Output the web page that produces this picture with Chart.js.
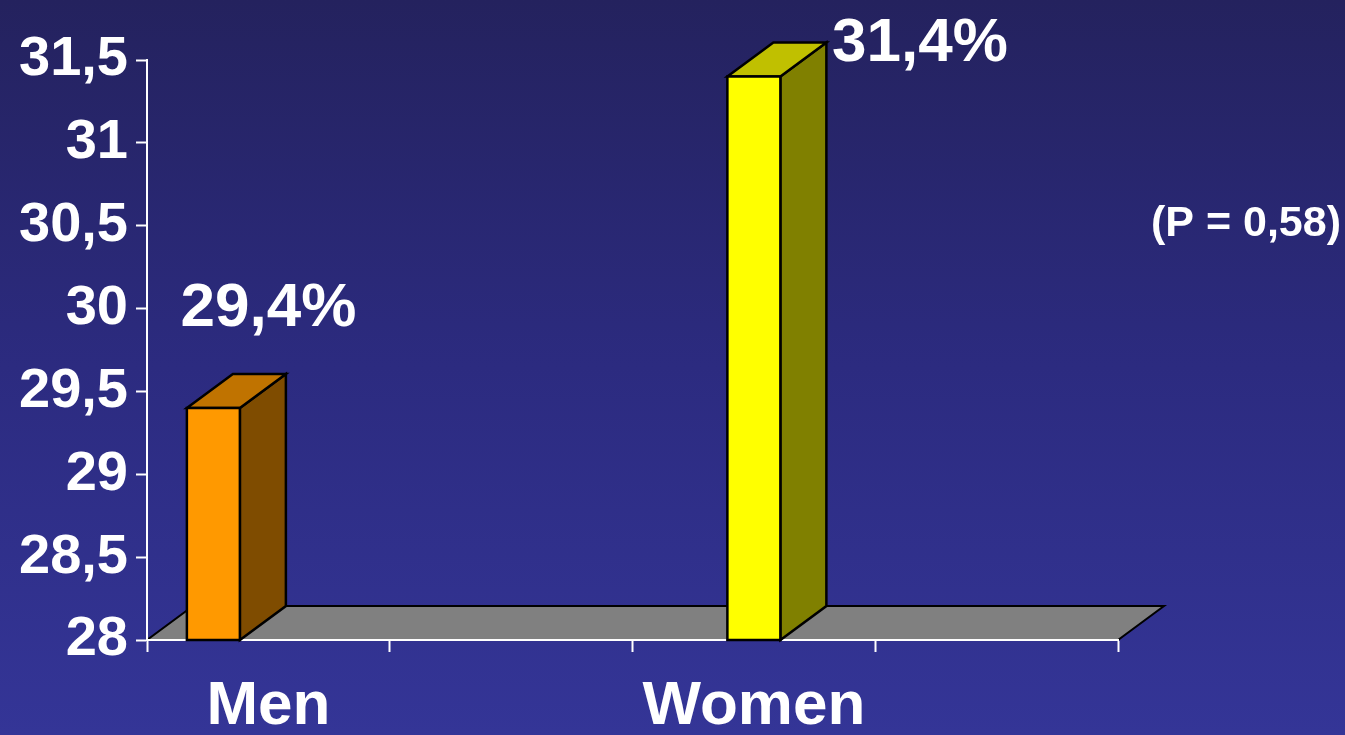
<!DOCTYPE html>
<html>
<head>
<meta charset="utf-8">
<script src="https://cdn.jsdelivr.net/npm/chart.js@4"></script>
<style>
  html, body { margin: 0; padding: 0; }
  #wrap { width: 1345px; height: 735px; position: relative;
          background: linear-gradient(to bottom, #24225e 0%, #2c2b80 50%, #343597 100%); }
</style>
</head>
<body>
<div id="wrap"><canvas id="c"></canvas></div>
<script>
// ---- data ----
const categories = ['Men', 'Women'];
const values = [29.4, 31.4];
const valueLabels = ['29,4%', '31,4%'];
const yTicks = [28, 28.5, 29, 29.5, 30, 30.5, 31, 31.5];
const note = '(P = 0,58)';

// ---- styles ----
const FONT = '"Liberation Sans", Arial, sans-serif';
const faceColors = [
  { front: '#FF9900', top: '#C07300', side: '#7F4C00' },
  { front: '#FFFF00', top: '#C0C000', side: '#808000' }
];
const barShiftPx = [-55, 0];                 // horizontal placement tweak inside the category slot
const labelOffset = [{ dx: 0, dy: -82 }, { dx: 166, dy: -16 }];
const DEPTH_X = 46, DEPTH_Y = -34;

const xLabels = categories.flatMap(c => [c, '']);

function poly(ctx, pts, fill) {
  ctx.beginPath();
  ctx.moveTo(pts[0][0], pts[0][1]);
  for (let i = 1; i < pts.length; i++) ctx.lineTo(pts[i][0], pts[i][1]);
  ctx.closePath();
  ctx.fillStyle = fill;
  ctx.fill();
  ctx.stroke();
}

const threeD = {
  id: 'threeD',
  beforeDraw(chart) {
    const ctx = chart.ctx;
    const x = chart.scales.x, y = chart.scales.y;
    const yb = y.getPixelForValue(y.min);
    ctx.save();
    ctx.lineWidth = 2;
    ctx.strokeStyle = '#000';
    ctx.lineJoin = 'miter';
    poly(ctx, [[x.left, yb], [x.right, yb], [x.right + DEPTH_X, yb + DEPTH_Y], [x.left + DEPTH_X, yb + DEPTH_Y]], '#808080');
    ctx.restore();
  },
  afterDatasetsDraw(chart) {
    const ctx = chart.ctx;
    const ys = chart.scales.y;
    const floorPx = ys.getPixelForValue(ys.min);
    const meta = chart.getDatasetMeta(0);
    ctx.save();
    ctx.lineWidth = 2.5;
    ctx.strokeStyle = '#000';
    meta.data.forEach((bar, i) => {
      const p = bar.getProps(['x', 'y', 'base', 'width'], true);
      const cx = p.x + barShiftPx[i];
      const l = cx - p.width / 2, r = cx + p.width / 2;
      const t = p.y, b = Math.min(p.base, floorPx);
      const c = faceColors[i];
      poly(ctx, [[r, t], [r + DEPTH_X, t + DEPTH_Y], [r + DEPTH_X, b + DEPTH_Y], [r, b]], c.side);
      poly(ctx, [[l, t], [l + DEPTH_X, t + DEPTH_Y], [r + DEPTH_X, t + DEPTH_Y], [r, t]], c.top);
      poly(ctx, [[l, t], [r, t], [r, b], [l, b]], c.front);

      ctx.fillStyle = '#fff';
      ctx.font = 'bold 62px ' + FONT;
      ctx.textAlign = 'center';
      ctx.textBaseline = 'alphabetic';
      ctx.fillText(valueLabels[i], p.x + labelOffset[i].dx, t + labelOffset[i].dy);
    });
    ctx.fillStyle = '#fff';
    ctx.font = 'bold 43px ' + FONT;
    ctx.textAlign = 'center';
    ctx.textBaseline = 'middle';
    ctx.fillText(note, chart.scales.x.right + 128, 224);
    ctx.restore();
  }
};

new Chart(document.getElementById('c'), {
  type: 'bar',
  data: {
    labels: xLabels,
    datasets: [{
      data: categories.map((c, i) => ({ x: c, y: values[i] })),
      backgroundColor: 'rgba(0,0,0,0)',
      borderWidth: 0,
      barThickness: 53
    }]
  },
  options: {
    responsive: true,
    maintainAspectRatio: false,
    animation: false,
    events: [],
    layout: { padding: { top: 60, right: 227, left: 0, bottom: 0 } },
    plugins: { legend: { display: false }, tooltip: { enabled: false } },
    scales: {
      x: {
        type: 'category',
        offset: true,
        afterFit(s) { s.height = 95; },
        grid: { display: true, offset: true, drawOnChartArea: false, drawTicks: true,
                tickLength: 12, tickColor: '#ffffff', tickWidth: 2, color: '#ffffff' },
        border: { display: true, color: '#ffffff', width: 2 },
        ticks: { color: '#ffffff', font: { family: FONT, size: 62, weight: 'bold' },
                 padding: 18, maxRotation: 0, autoSkip: false }
      },
      y: {
        type: 'linear',
        min: yTicks[0],
        max: yTicks[yTicks.length - 1],
        afterFit(s) { s.width = 147; },
        afterBuildTicks(s) { s.ticks = yTicks.map(v => ({ value: v })); },
        grid: { display: true, drawOnChartArea: false, drawTicks: true,
                tickLength: 11, tickColor: '#ffffff', tickWidth: 2, color: '#ffffff' },
        border: { display: true, color: '#ffffff', width: 2 },
        ticks: { color: '#ffffff', font: { family: FONT, size: 56, weight: 'bold' }, padding: 8,
                 callback: v => String(v).replace('.', ',') }
      }
    }
  },
  plugins: [threeD]
});
</script>
</body>
</html>
